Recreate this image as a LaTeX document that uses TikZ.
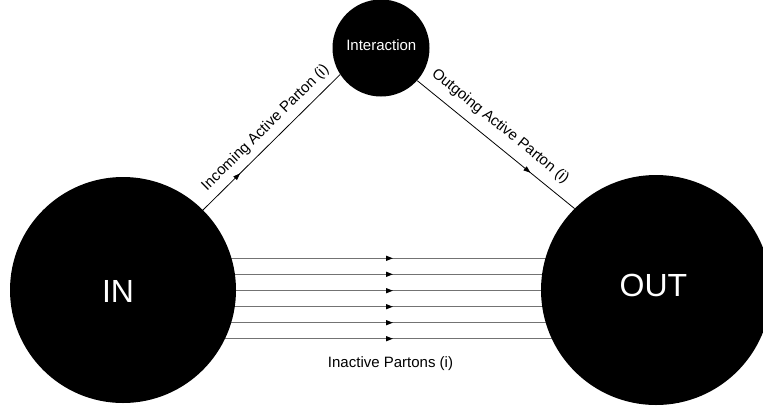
\documentclass[tikz,border=0pt]{standalone}
\usepackage{fontspec}
\setmainfont{Liberation Sans}
\usetikzlibrary{arrows.meta,decorations.markings}
\pgfdeclarelayer{background}
\pgfsetlayers{background,main}
\begin{document}
\begin{tikzpicture}[x=1pt,y=1pt,
  blob/.style={circle, fill=black, inner sep=0pt},
  midarrow/.style={postaction={decorate,decoration={markings,mark=at position #1 with {\arrow[black]{Triangle[length=7pt,width=5pt]}}}}},
  active/.style={draw=black, line width=0.8pt},
  inactive/.style={draw=black!55, line width=1.3pt},
  lbl/.style={font=\fontsize{15}{18}\selectfont, inner sep=0pt},
  big/.style={font=\fontsize{32}{38}\selectfont, inner sep=0pt, text=white}]
\useasboundingbox (0,0) rectangle (763,-408);
\clip (0,0) rectangle (763,-408);
\node[blob, minimum size=226pt] (IN) at (123,-290) {};
\node[blob, minimum size=230pt] (OUT) at (656,-290) {};
\node[blob, minimum size=97pt] (INT) at (381,-48) {};
\node[big] (INtxt) at (118,-291.5) {IN};
\node[big] (OUTtxt) at (653.5,-285) {OUT};
\node[lbl, text=white] (INTtxt) at (381.3,-45) {Interaction};
\draw[active, midarrow=0.27] (IN.45) -- node[lbl, sloped, above=7pt, pos=0.53] (inlbl) {Incoming Active Parton (i)} (INT.213);
\draw[active, midarrow=0.72] (INT.318) -- node[lbl, sloped, above=9.5pt, pos=0.46] (outlbl) {Outgoing Active Parton (i)} (OUT.135);
\begin{pgfonlayer}{background}
\foreach \d in {31.7,15.7,-0.7,-16.7,-32.7,-48.7}
  \draw[inactive, midarrow=0.5066] ([yshift=\d pt]IN.center) -- ([yshift=\d pt]OUT.center);
\end{pgfonlayer}
\node[lbl] (inact) at (390.5,-364) {Inactive Partons (i)};
\end{tikzpicture}
\end{document}
